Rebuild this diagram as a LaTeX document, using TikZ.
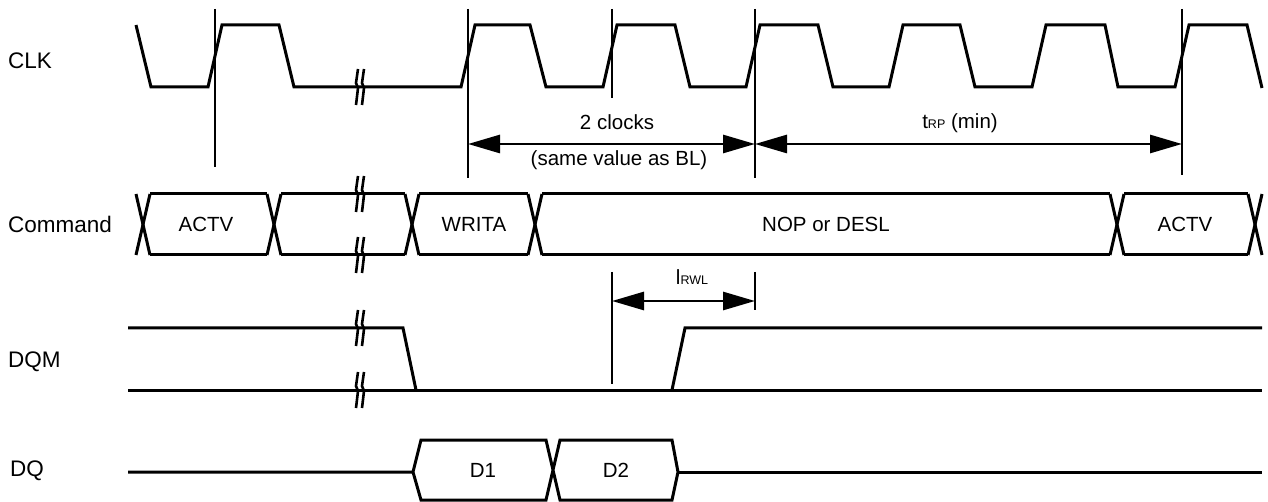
\documentclass[tikz,border=0pt]{standalone}
\usepackage{fontspec}
\setmainfont{Liberation Sans}
\usetikzlibrary{arrows.meta}
\begin{document}
\begin{tikzpicture}[x=1pt,y=-1pt,
 wave/.style={line width=3pt, line join=miter},
 marker/.style={line width=2.8pt},
 dim/.style={line width=2.8pt, {Triangle[length=32pt,width=18pt]}-{Triangle[length=32pt,width=18pt]}},
 sig/.style={anchor=west, inner sep=0pt, font=\fontsize{22.5}{24}\selectfont},
 bustxt/.style={inner sep=0pt, font=\fontsize{20.5}{22}\selectfont},
 ann/.style={inner sep=0pt, anchor=base, font=\fontsize{20.5}{22}\selectfont},
 brk/.pic={
   \draw[line width=2.6pt, line join=miter] (-1,-18) -- (-3,-4) -- (-1,1) -- (-3,18);
   \draw[line width=2.6pt, line join=miter] (5,-18) -- (3,-4) -- (5,1) -- (3,18);
 }
]
\useasboundingbox (0,0) rectangle (1268,502);

% signal labels
\node[sig] (lclk) at (8,61) {CLK};
\node[sig] (lcmd) at (8,224) {Command};
\node[sig] (ldqm) at (8,362) {DQM};
\node[sig] (ldq)  at (10,471) {DQ};

% CLK waveform
\draw[wave] (136,25) -- (151,87) -- (208,87) -- (222,25) -- (279,25) -- (294,87) -- (461,87)
  -- (475,25) -- (530,25) -- (546,87) -- (603,87)
  -- (617,25) -- (675,25) -- (690,87) -- (746,87)
  -- (760,25) -- (818,25) -- (833,87) -- (889,87)
  -- (903,25) -- (960,25) -- (975,87) -- (1032,87)
  -- (1046,25) -- (1105,25) -- (1118,87) -- (1175,87)
  -- (1189,25) -- (1247,25) -- (1262,88);
\pic at (359,87) {brk};

% Command bus
\foreach \c in {143,274,412,535,1117,1255}{
  \draw[wave] (\c-7,194) -- (\c+7,255);
  \draw[wave] (\c-7,255) -- (\c+7,194);
}
\foreach \a/\b in {150/267,281/405,419/528,542/1110,1124/1248}{
  \draw[wave] (\a,194) -- (\b,194);
  \draw[wave] (\a,255) -- (\b,255);
}
\pic at (359,194) {brk};
\pic at (359,255) {brk};
\node[bustxt] (actv1) at (206,224) {ACTV};
\node[bustxt] (writa) at (474,224) {WRITA};
\node[bustxt] (nop) at (826,224) {NOP or DESL};
\node[bustxt] (actv2) at (1185,224) {ACTV};

% DQM
\draw[wave] (128,328) -- (403,328) -- (416,390);
\draw[wave] (128,390) -- (1262,390);
\draw[wave] (672,390) -- (685,328) -- (1262,328);
\pic at (359,328) {brk};
\pic at (359,390) {brk};

% DQ
\draw[wave] (128,472) -- (413,472) -- (421,440) -- (546,440) -- (560,500) -- (672,500) -- (678,472) -- (672,440) -- (560,440) -- (546,500) -- (421,500) -- (413,472);
\draw[wave] (678,472) -- (1262,472);
\node[bustxt] (d1) at (483,470) {D1};
\node[bustxt] (d2) at (616,470) {D2};

% markers
\coordinate (m1t) at (215,9);   \coordinate (m1b) at (215,167);
\coordinate (m2t) at (468,9);   \coordinate (m2b) at (468,178);
\coordinate (m3t) at (612,9);   \coordinate (m3b) at (612,98);
\coordinate (m4t) at (755,9);   \coordinate (m4b) at (755,178);
\coordinate (m5t) at (1182,9);  \coordinate (m5b) at (1182,175);
\coordinate (m6t) at (612,272); \coordinate (m6b) at (612,384);
\coordinate (m7t) at (755,272); \coordinate (m7b) at (755,310);
\foreach \i in {1,...,7}{ \draw[marker] (m\i t) -- (m\i b); }

% dimension arrows
\coordinate (a1) at (468,144);
\coordinate (a2) at (755,144);
\coordinate (a3) at (1182,144);
\coordinate (b1) at (612,301);
\coordinate (b2) at (755,301);
\draw[dim] (a1) -- (a2);
\draw[dim] (a2) -- (a3);
\draw[dim] (b1) -- (b2);

\node[ann] (clk2) at (617,130) {2 clocks};
\node[ann] (same) at (619,166) {(same value as BL)};
\node[ann] (trp) at (960,129) {t{\fontsize{12.5}{13}\selectfont RP} (min)};
\node[ann] (lrwl) at (692,285) {l{\fontsize{12.5}{13}\selectfont RWL}};
\end{tikzpicture}
\end{document}
